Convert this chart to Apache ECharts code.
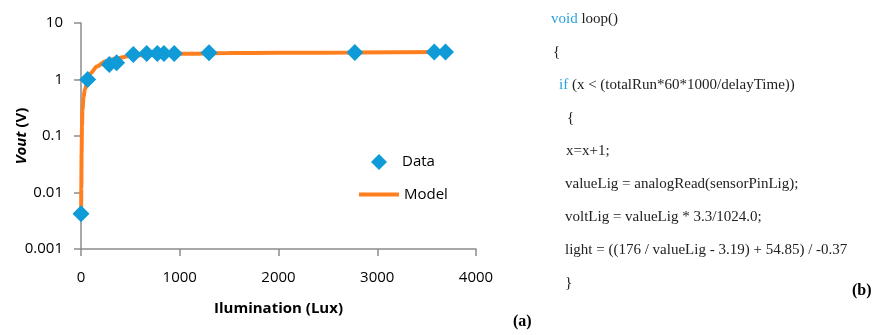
<!DOCTYPE html>
<html>
<head>
<meta charset="utf-8">
<script src="https://cdn.jsdelivr.net/npm/echarts@6/dist/echarts.min.js"></script>
<style>html,body{margin:0;padding:0;background:#fff}#c{width:885px;height:335px}</style>
</head>
<body>
<div id="c"></div>
<script>
// Measured data (Illumination lux, Vout V)
const dataLux  = [0, 68, 287, 361, 530, 665, 773, 840, 944, 1296, 2773, 3577, 3691];
const dataVout = [0.0042, 1.0, 1.84, 1.97, 2.77, 2.88, 2.88, 2.88, 2.88, 2.97, 3.0, 3.08, 3.08];
// Model curve
const modelLux  = [1, 3, 6, 10, 15, 25, 40, 70, 100, 160, 250, 350, 500, 700, 1000, 1500, 2000, 2800, 3700];
const modelVout = [0.004, 0.012, 0.05, 0.15, 0.29, 0.48, 0.67, 1.0, 1.3, 1.7, 2.1, 2.35, 2.6, 2.75, 2.85, 2.93, 2.97, 3.0, 3.08];
const xTicks = [0, 1000, 2000, 3000, 4000];
const yTicks = ['0.001', '0.01', '0.1', '1', '10'];
const codeLines = [
  '{k|void} loop()',
  '{',
  '{k|if} (x < (totalRun*60*1000/delayTime))',
  '{',
  'x=x+1;',
  'valueLig = analogRead(sensorPinLig);',
  'voltLig = valueLig * 3.3/1024.0;',
  'light = ((176 / valueLig - 3.19) + 54.85) / -0.37',
  '}'
];
const codeX = [551, 553, 559, 567, 566, 565, 565, 565, 565];

const chart = echarts.init(document.getElementById('c'));
const sans = '"Open Sans", "Liberation Sans", sans-serif';
const serif = '"Liberation Serif", "DejaVu Serif", serif';
const codeFont = '15px ' + serif;
const graphics = codeLines.map((t, i) => ({
  type: 'text', left: codeX[i], top: 21 + i * 33 - 9,
  style: {
    text: t, font: codeFont, fill: '#222',
    rich: { k: { fill: '#2aa3dc', font: codeFont } }
  }
}));
graphics.push({ type: 'text', left: 852, top: 283, style: { text: '(b)', font: 'bold 16px ' + serif, fill: '#000' } });
graphics.push({ type: 'text', left: 513, top: 314, style: { text: '(a)', font: 'bold 16px ' + serif, fill: '#000' } });

chart.setOption({
  animation: false,
  backgroundColor: '#fff',
  grid: { left: 81, right: 409, top: 23, bottom: 86, containLabel: false },
  xAxis: {
    type: 'value', min: xTicks[0], max: xTicks[xTicks.length - 1], interval: 1000,
    name: 'Ilumination (Lux)', nameLocation: 'middle', nameGap: 52,
    nameTextStyle: { fontFamily: sans, fontWeight: 'bold', fontSize: 15, color: '#000' },
    axisLine: { lineStyle: { color: '#8c8c8c', width: 1.5 } },
    axisTick: { show: true, length: 7, lineStyle: { color: '#8c8c8c', width: 1.5 } },
    axisLabel: { fontFamily: sans, fontSize: 15, color: '#000', margin: 21,
      formatter: v => String(v) },
    splitLine: { show: false }
  },
  yAxis: {
    type: 'log', logBase: 10, min: 0.001, max: 10,
    name: '{i|Vout} (V)', nameLocation: 'middle', nameGap: 52, nameRotate: 90, nameMoveOverlap: false,
    nameTextStyle: { fontFamily: sans, fontWeight: 'bold', fontSize: 15, color: '#000',
      rich: { i: { fontFamily: sans, fontWeight: 'bold', fontStyle: 'italic', fontSize: 15, color: '#000' } } },
    axisLine: { show: true, lineStyle: { color: '#8c8c8c', width: 1.5 } },
    axisTick: { show: true, length: 7, lineStyle: { color: '#8c8c8c', width: 1.5 } },
    axisLabel: { fontFamily: sans, fontSize: 15, color: '#000', margin: 18,
      formatter: v => { const e = Math.round(Math.log10(v)) + 3; return yTicks[e] !== undefined ? yTicks[e] : ''; } },
    splitLine: { show: false }
  },
  legend: [{
    data: [{ name: 'Data', icon: 'diamond' }],
    left: 366, top: 149, itemWidth: 16, itemHeight: 16,
    textStyle: { fontFamily: sans, fontSize: 15, color: '#000', padding: [0, 0, 0, 10] }, selectedMode: false
  }, {
    data: [{ name: 'Model', icon: 'rect' }],
    left: 354, top: 182, itemWidth: 40, itemHeight: 4,
    textStyle: { fontFamily: sans, fontSize: 15, color: '#000', padding: [0, 0, 0, 0] }, selectedMode: false
  }],
  series: [{
    name: 'Model', type: 'line', symbol: 'none', smooth: 0.3, smoothMonotone: 'x',
    data: modelLux.map((x, i) => [x, modelVout[i]]),
    lineStyle: { color: '#ff7f1e', width: 4 }, itemStyle: { color: '#ff7f1e' }, z: 2
  }, {
    name: 'Data', type: 'scatter', symbol: 'diamond', symbolSize: 17,
    data: dataLux.map((x, i) => [x, dataVout[i]]),
    itemStyle: { color: '#0f9bd7', opacity: 1 }, z: 3
  }],
  graphic: graphics
});
</script>
</body>
</html>
